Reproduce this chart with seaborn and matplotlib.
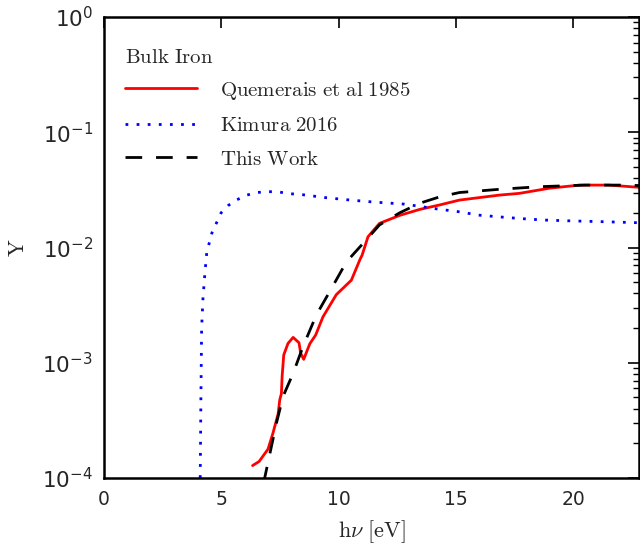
import numpy as np
import pandas as pd
import matplotlib
matplotlib.use("Agg")
import matplotlib.pyplot as plt
import seaborn as sns

# Quemerais et al 1985
q_x = [6.33, 6.61, 6.99, 7.2, 7.42, 7.49, 7.56, 7.59, 7.66, 7.84, 8.06, 8.31, 8.38, 8.51,
       8.77, 9.02, 9.33, 9.9, 10.54, 10.9, 11.0, 11.25, 11.74, 12.6, 13.45, 14.3, 15.15,
       16.85, 17.7, 18.98, 20.26, 21.5, 22.8]
q_y = [1.28e-4, 1.39e-4, 1.78e-4, 2.45e-4, 3.6e-4, 4.77e-4, 5.4e-4, 7.6e-4, 1.17e-3, 1.47e-3,
       1.66e-3, 1.49e-3, 1.21e-3, 1.07e-3, 1.46e-3, 1.74e-3, 2.5e-3, 3.9e-3, 5.2e-3, 7.8e-3,
       8.6e-3, 0.0124, 0.0162, 0.019, 0.0214, 0.0234, 0.0258, 0.0285, 0.0295, 0.0327, 0.0348,
       0.0348, 0.0333]

# Kimura 2016
k_x = [4.1, 4.13, 4.16, 4.22, 4.3, 4.38, 4.6, 4.99, 5.3, 5.67, 6.09, 6.5, 6.96, 7.4, 7.87,
       8.3, 9.5, 10.5, 11.5, 12.8, 13.3, 14.2, 15.15, 15.96, 16.9, 17.8, 18.77, 20.0, 21.5, 22.8]
k_y = [1.0e-4, 5.0e-4, 2.0e-3, 3.7e-3, 6.0e-3, 9.1e-3, 0.0134, 0.020, 0.0232, 0.026, 0.0285,
       0.030, 0.0305, 0.0305, 0.0293, 0.029, 0.027, 0.0258, 0.0248, 0.0238, 0.023, 0.0216,
       0.0204, 0.0191, 0.0184, 0.0178, 0.0173, 0.0170, 0.0167, 0.0164]

# This Work
t_x = [6.8, 7.0, 7.35, 7.63, 8.06, 8.48, 9.05, 9.69, 10.33, 11.1, 11.74, 12.6, 13.45, 14.3,
       15.15, 16.85, 18.55, 20.5, 21.96, 22.8]
t_y = [9.0e-5, 1.4e-4, 3.0e-4, 5.1e-4, 8.1e-4, 1.38e-3, 2.6e-3, 4.4e-3, 7.5e-3, 0.0112,
       0.0157, 0.020, 0.0242, 0.0275, 0.030, 0.032, 0.0337, 0.0348, 0.0348, 0.0345]

labels = ["Quemerais et al 1985", "Kimura 2016", "This Work"]

sns.set_style("white")
plt.rcParams["mathtext.fontset"] = "dejavusans"

fig = plt.figure(figsize=(6.4, 5.5), dpi=100)
ax = fig.add_axes([0.1625, 0.131, 0.836, 0.838])

def mt(s):
    return r"$\mathrm{" + s.replace(" ", r"\ ") + "}$"

dq = pd.DataFrame({"x": q_x, "y": q_y})
dk = pd.DataFrame({"x": k_x, "y": k_y})
dt = pd.DataFrame({"x": t_x, "y": t_y})

sns.lineplot(data=dq, x="x", y="y", ax=ax, color="red", lw=2, label=mt(labels[0]),
             sort=False, estimator=None)
sns.lineplot(data=dk, x="x", y="y", ax=ax, color="blue", lw=2, label=mt(labels[1]),
             sort=False, estimator=None)
sns.lineplot(data=dt, x="x", y="y", ax=ax, color="black", lw=2, label=mt(labels[2]),
             sort=False, estimator=None)
lines = ax.get_lines()
lines[1].set_linestyle((0, (1, 3)))
lines[2].set_linestyle((0, (6, 5)))

ax.set_yscale("log")
ax.set_xlim(0, 22.8)
ax.set_ylim(1e-4, 1)
ax.set_xticks([0, 5, 10, 15, 20])

for s in ax.spines.values():
    s.set_linewidth(1.8)
    s.set_color("black")
    s.set_visible(True)
ax.tick_params(which="both", direction="in", top=True, right=True, color="black")
ax.tick_params(which="major", length=8, width=1.2, pad=8)
ax.tick_params(axis="x", which="major", labelsize=13.5, pad=9)
ax.tick_params(axis="y", which="major", labelsize=15.5, pad=8)
ax.tick_params(which="minor", length=4, width=1.0)
ax.tick_params(axis="x", which="minor", bottom=False, top=False)

ax.set_xlabel(r"$\mathrm{h}\nu\ [\mathrm{eV}]$", fontsize=16, math_fontfamily="cm", labelpad=6)
ax.set_ylabel(r"$\mathrm{Y}$", fontsize=16, math_fontfamily="cm", labelpad=10)

leg = ax.legend(loc="upper left", frameon=False, title=mt("Bulk Iron"),
                handlelength=3.45, handletextpad=1.1, labelspacing=0.65,
                prop={"size": 15}, title_fontsize=15,
                borderaxespad=0.5, borderpad=0.5, bbox_to_anchor=(0.0, 0.98))
leg._legend_box.align = "left"
leg._legend_box.sep = 9
for t in leg.get_texts():
    t.set_math_fontfamily("cm")
leg.get_title().set_math_fontfamily("cm")

fig.savefig("out.png", dpi=100)
